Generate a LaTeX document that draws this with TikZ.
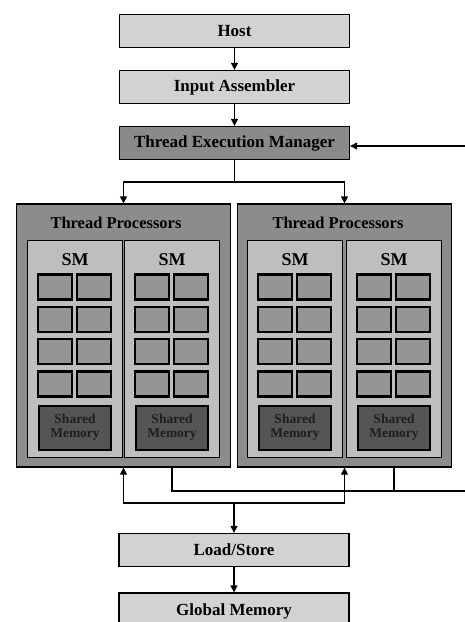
\documentclass[tikz,border=0pt]{standalone}
\usepackage{fontspec}
\setmainfont{Liberation Serif}
\usetikzlibrary{arrows.meta}
\definecolor{lightbox}{HTML}{D2D2D2}
\definecolor{darkbox}{HTML}{8A8A8A}
\definecolor{tpgray}{HTML}{8C8C8C}
\definecolor{smgray}{HTML}{BEBEBE}
\definecolor{cellgray}{HTML}{959595}
\definecolor{shgray}{HTML}{555555}
\definecolor{shtext}{HTML}{1E1E1E}
\begin{document}
\begin{tikzpicture}[x=1pt,y=-1pt,
  flowbox/.style={draw=black, line width=1.3pt, fill=lightbox, minimum width=230pt, minimum height=33pt, inner sep=0pt, font=\fontsize{17}{20}\selectfont\bfseries},
  tpbox/.style={draw=black, line width=1.3pt, fill=tpgray, minimum width=214pt, minimum height=263pt, inner sep=0pt},
  tptitle/.style={inner sep=0pt, font=\fontsize{16.5}{18}\selectfont\bfseries},
  smbox/.style={draw=black, line width=1.3pt, fill=smgray, minimum width=95pt, minimum height=217pt, inner sep=0pt},
  smlabel/.style={inner sep=0pt, font=\fontsize{18}{20}\selectfont\bfseries},
  cell/.style={draw=black, line width=2.2pt, fill=cellgray, minimum width=34pt, minimum height=25pt, inner sep=0pt},
  shbox/.style={draw=black, line width=2pt, fill=shgray, minimum width=72pt, minimum height=44pt, inner sep=0pt, align=center, text=shtext, font=\fontsize{13.5}{16}\selectfont\bfseries},
  conn/.style={line width=1.3pt},
  arr/.style={conn, -{Triangle[length=7pt,width=7pt]}}
]
\clip (0,0) rectangle (465,622);
\fill[white] (0,0) rectangle (465,622);

\node[flowbox] (host) at (234.5,31) {Host};
\node[flowbox] (ia) at (234.5,87) {Input Assembler};
\node[flowbox, fill=darkbox] (tem) at (234.5,143) {Thread Execution Manager};
\node[flowbox] (ls) at (234,550) {Load/Store};
\node[flowbox, minimum height=36pt] (gm) at (234,611) {Global Memory};

\node[tpbox] (tpL) at (123.5,335.5) {};
\node[tpbox] (tpR) at (344.5,335.5) {};
\node[tptitle] (tpLt) at (116,223) {Thread Processors};
\node[tptitle] (tpRt) at (338,223) {Thread Processors};

\foreach \n/\sx in {a/27,b/124,c/247,d/346} {
  \node[smbox] (sm\n) at (\sx+48,348.75) {};
  \node[smlabel] (sm\n l) at (\sx+48,260) {SM};
  \foreach \r in {0,1,2,3} {
    \foreach \c/\cx in {0/28,1/67} {
      \node[cell] (cell\n\r\c) at (\sx+\cx,287+32.3*\r) {};
    }
  }
  \node[shbox] (sh\n) at (\sx+48,427.5) {Shared\\[-2pt]Memory};
}

\draw[arr] (host) -- (ia);
\draw[arr] (ia) -- (tem);
\coordinate (split) at (234.5,182);
\draw[conn] (tem) -- (split);
\draw[arr] (split) -| (tpL.north);
\draw[arr] (split) -| (tpR.north);

\coordinate (join) at (234,503);
\draw[arr] (join) -| (tpL.south);
\draw[arr] (join) -| (tpR.south);
\draw[arr] (join) -- (ls);
\draw[arr] (ls) -- (gm);

\coordinate (fbOut) at (465,491);
\coordinate (fbIn) at (465,146);
\draw[conn] (smb.center |- tpL.south) -- (smb.center |- fbOut) -- (fbOut);
\draw[conn] (smd.center |- tpR.south) -- (smd.center |- fbOut);
\draw[arr] (fbIn) -- (fbIn -| tem.east);
\end{tikzpicture}
\end{document}
